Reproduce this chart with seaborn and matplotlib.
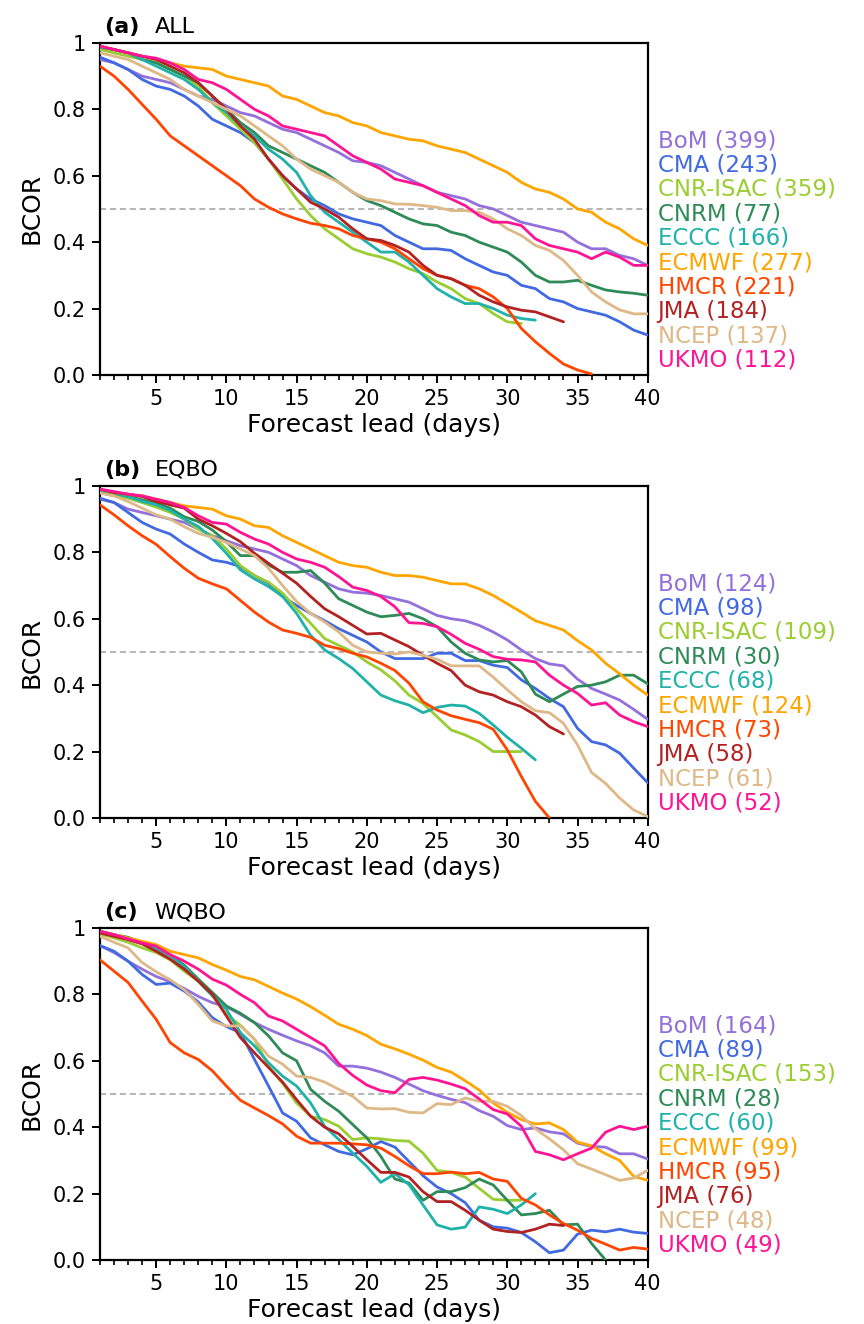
import pandas as pd
import matplotlib
matplotlib.use('Agg')
import matplotlib.pyplot as plt
import seaborn as sns

sns.set_style('ticks')
plt.rcParams['font.family'] = ['DejaVu Sans']
plt.rcParams['text.color'] = 'black'
plt.rcParams['axes.labelcolor'] = 'black'
plt.rcParams['axes.edgecolor'] = 'black'
plt.rcParams['xtick.color'] = 'black'
plt.rcParams['ytick.color'] = 'black'

# 模式名称和颜色
models = ['BoM', 'CMA', 'CNR-ISAC', 'CNRM', 'ECCC', 'ECMWF', 'HMCR', 'JMA', 'NCEP', 'UKMO']
colors = ['#9370DB', '#4169E1', '#9ACD32', '#2E8B57', '#20B2AA',
          '#FFA500', '#FF4500', '#B22222', '#DEB887', '#FF1493']

# (a) ALL
all_bom = [0.95, 0.94, 0.92, 0.90, 0.89, 0.88, 0.86, 0.84, 0.83, 0.81, 0.79, 0.78, 0.76, 0.74, 0.73, 0.71, 0.69, 0.67, 0.645, 0.64,
           0.63, 0.61, 0.59, 0.57, 0.55, 0.54, 0.53, 0.51, 0.50, 0.48, 0.46, 0.45, 0.44, 0.43, 0.40, 0.38, 0.38, 0.36, 0.35, 0.33]
all_cma = [0.957, 0.94, 0.92, 0.89, 0.87, 0.86, 0.84, 0.81, 0.77, 0.75, 0.73, 0.70, 0.65, 0.60, 0.56, 0.53, 0.51, 0.485, 0.47, 0.46,
           0.45, 0.42, 0.40, 0.38, 0.38, 0.375, 0.35, 0.33, 0.31, 0.30, 0.27, 0.26, 0.23, 0.22, 0.20, 0.19, 0.18, 0.16, 0.135, 0.12]
all_cnr = [0.98, 0.97, 0.96, 0.95, 0.94, 0.92, 0.90, 0.87, 0.82, 0.78, 0.74, 0.70, 0.65, 0.59, 0.53, 0.48, 0.44, 0.41, 0.38, 0.365,
           0.355, 0.34, 0.32, 0.305, 0.28, 0.26, 0.23, 0.215, 0.185, 0.16, 0.155]
all_cnrm = [0.987, 0.98, 0.97, 0.95, 0.94, 0.92, 0.90, 0.88, 0.84, 0.80, 0.76, 0.73, 0.69, 0.67, 0.65, 0.63, 0.61, 0.58, 0.55, 0.525,
            0.51, 0.49, 0.47, 0.455, 0.45, 0.43, 0.42, 0.40, 0.385, 0.37, 0.34, 0.30, 0.28, 0.28, 0.285, 0.27, 0.256, 0.25, 0.246, 0.24]
all_eccc = [0.987, 0.98, 0.97, 0.95, 0.93, 0.91, 0.89, 0.86, 0.82, 0.79, 0.75, 0.72, 0.68, 0.65, 0.61, 0.54, 0.49, 0.46, 0.43, 0.40,
            0.37, 0.37, 0.34, 0.30, 0.26, 0.235, 0.215, 0.215, 0.20, 0.18, 0.17, 0.165]
all_ecmwf = [0.99, 0.98, 0.97, 0.96, 0.95, 0.94, 0.93, 0.925, 0.92, 0.90, 0.89, 0.88, 0.87, 0.84, 0.83, 0.81, 0.79, 0.78, 0.76, 0.75,
             0.73, 0.72, 0.71, 0.705, 0.69, 0.68, 0.67, 0.65, 0.63, 0.61, 0.58, 0.56, 0.55, 0.53, 0.50, 0.49, 0.46, 0.44, 0.41, 0.39]
all_hmcr = [0.93, 0.90, 0.86, 0.815, 0.77, 0.72, 0.69, 0.66, 0.63, 0.60, 0.57, 0.53, 0.505, 0.485, 0.47, 0.457, 0.45, 0.44, 0.42, 0.41,
            0.40, 0.38, 0.35, 0.32, 0.30, 0.29, 0.27, 0.26, 0.235, 0.20, 0.14, 0.10, 0.065, 0.033, 0.015, 0.003]
all_jma = [0.99, 0.98, 0.97, 0.96, 0.95, 0.93, 0.91, 0.88, 0.84, 0.80, 0.75, 0.71, 0.65, 0.60, 0.56, 0.52, 0.50, 0.475, 0.44, 0.41,
           0.405, 0.39, 0.37, 0.33, 0.30, 0.29, 0.27, 0.24, 0.22, 0.205, 0.195, 0.19, 0.175, 0.16]
all_ncep = [0.97, 0.96, 0.95, 0.93, 0.91, 0.89, 0.86, 0.84, 0.82, 0.80, 0.78, 0.75, 0.72, 0.69, 0.65, 0.62, 0.60, 0.58, 0.55, 0.53,
            0.525, 0.515, 0.514, 0.51, 0.505, 0.495, 0.495, 0.49, 0.47, 0.44, 0.42, 0.39, 0.375, 0.345, 0.30, 0.25, 0.22, 0.196, 0.184, 0.184]
all_ukmo = [0.99, 0.98, 0.97, 0.96, 0.954, 0.94, 0.92, 0.89, 0.88, 0.86, 0.83, 0.80, 0.78, 0.75, 0.74, 0.73, 0.72, 0.69, 0.66, 0.64,
            0.62, 0.59, 0.58, 0.57, 0.55, 0.53, 0.51, 0.48, 0.46, 0.46, 0.45, 0.41, 0.39, 0.38, 0.37, 0.35, 0.37, 0.355, 0.33, 0.33]
all_counts = [399, 243, 359, 77, 166, 277, 221, 184, 137, 112]

# (b) EQBO
eq_bom = [0.96, 0.95, 0.93, 0.92, 0.91, 0.90, 0.89, 0.87, 0.85, 0.835, 0.82, 0.81, 0.80, 0.78, 0.76, 0.73, 0.71, 0.69, 0.68, 0.677,
          0.67, 0.66, 0.65, 0.63, 0.61, 0.60, 0.594, 0.58, 0.56, 0.536, 0.506, 0.48, 0.464, 0.458, 0.418, 0.39, 0.373, 0.355, 0.327, 0.297]
eq_cma = [0.963, 0.95, 0.92, 0.89, 0.87, 0.855, 0.825, 0.80, 0.777, 0.77, 0.757, 0.73, 0.707, 0.667, 0.64, 0.616, 0.594, 0.57, 0.55, 0.53,
          0.50, 0.48, 0.48, 0.48, 0.496, 0.496, 0.474, 0.474, 0.46, 0.453, 0.416, 0.39, 0.36, 0.335, 0.27, 0.23, 0.22, 0.195, 0.15, 0.106]
eq_cnr = [0.98, 0.97, 0.963, 0.95, 0.936, 0.92, 0.90, 0.87, 0.85, 0.81, 0.76, 0.73, 0.71, 0.677, 0.63, 0.586, 0.54, 0.52, 0.50, 0.47,
          0.446, 0.413, 0.37, 0.345, 0.305, 0.265, 0.25, 0.23, 0.20, 0.20, 0.20]
eq_cnrm = [0.986, 0.978, 0.968, 0.958, 0.948, 0.933, 0.907, 0.893, 0.867, 0.832, 0.79, 0.79, 0.762, 0.74, 0.74, 0.745, 0.707, 0.66, 0.64, 0.62,
           0.606, 0.61, 0.616, 0.60, 0.576, 0.53, 0.496, 0.476, 0.47, 0.474, 0.44, 0.373, 0.35, 0.373, 0.396, 0.40, 0.41, 0.43, 0.43, 0.404]
eq_eccc = [0.986, 0.978, 0.968, 0.953, 0.943, 0.926, 0.90, 0.878, 0.842, 0.797, 0.747, 0.72, 0.697, 0.667, 0.616, 0.55, 0.506, 0.48, 0.45, 0.41,
           0.37, 0.353, 0.34, 0.317, 0.333, 0.34, 0.337, 0.315, 0.28, 0.243, 0.21, 0.175]
eq_ecmwf = [0.99, 0.98, 0.975, 0.97, 0.96, 0.95, 0.94, 0.935, 0.93, 0.91, 0.90, 0.88, 0.875, 0.85, 0.83, 0.81, 0.79, 0.77, 0.76, 0.755,
            0.74, 0.73, 0.73, 0.725, 0.715, 0.705, 0.705, 0.69, 0.67, 0.645, 0.62, 0.594, 0.58, 0.566, 0.534, 0.506, 0.466, 0.434, 0.40, 0.37]
eq_hmcr = [0.943, 0.913, 0.88, 0.85, 0.824, 0.787, 0.752, 0.722, 0.705, 0.69, 0.655, 0.62, 0.59, 0.566, 0.556, 0.544, 0.52, 0.51, 0.496, 0.485,
           0.466, 0.444, 0.406, 0.35, 0.325, 0.308, 0.297, 0.287, 0.267, 0.205, 0.125, 0.05, 0.0]
eq_jma = [0.99, 0.98, 0.975, 0.968, 0.953, 0.943, 0.933, 0.90, 0.88, 0.857, 0.832, 0.797, 0.767, 0.737, 0.707, 0.667, 0.63, 0.606, 0.58, 0.554,
          0.556, 0.536, 0.516, 0.49, 0.466, 0.444, 0.40, 0.38, 0.37, 0.35, 0.335, 0.31, 0.275, 0.253]
eq_ncep = [0.978, 0.97, 0.953, 0.933, 0.913, 0.90, 0.877, 0.857, 0.845, 0.83, 0.81, 0.79, 0.752, 0.70, 0.652, 0.616, 0.59, 0.56, 0.52, 0.50,
           0.496, 0.494, 0.50, 0.49, 0.478, 0.458, 0.458, 0.458, 0.424, 0.386, 0.35, 0.323, 0.317, 0.285, 0.22, 0.137, 0.104, 0.06, 0.024, 0.004]
eq_ukmo = [0.99, 0.983, 0.975, 0.97, 0.96, 0.95, 0.935, 0.91, 0.89, 0.885, 0.86, 0.84, 0.825, 0.80, 0.78, 0.77, 0.755, 0.727, 0.695, 0.685,
           0.667, 0.636, 0.588, 0.586, 0.576, 0.553, 0.526, 0.508, 0.486, 0.478, 0.476, 0.47, 0.43, 0.40, 0.375, 0.34, 0.347, 0.31, 0.29, 0.275]
eq_counts = [124, 98, 109, 30, 68, 124, 73, 58, 61, 52]

# (c) WQBO
wq_bom = [0.947, 0.926, 0.90, 0.876, 0.854, 0.838, 0.818, 0.794, 0.775, 0.763, 0.74, 0.715, 0.695, 0.677, 0.66, 0.645, 0.624, 0.584, 0.584, 0.578,
          0.566, 0.55, 0.53, 0.51, 0.496, 0.484, 0.474, 0.45, 0.433, 0.405, 0.393, 0.398, 0.386, 0.38, 0.352, 0.342, 0.34, 0.32, 0.32, 0.304]
wq_cma = [0.947, 0.93, 0.90, 0.86, 0.83, 0.834, 0.81, 0.777, 0.73, 0.703, 0.685, 0.604, 0.524, 0.443, 0.418, 0.368, 0.347, 0.327, 0.317, 0.335,
          0.357, 0.34, 0.297, 0.254, 0.22, 0.20, 0.173, 0.12, 0.10, 0.096, 0.083, 0.055, 0.022, 0.03, 0.078, 0.09, 0.085, 0.093, 0.084, 0.08]
wq_cnr = [0.982, 0.97, 0.957, 0.94, 0.926, 0.904, 0.87, 0.84, 0.796, 0.74, 0.707, 0.665, 0.584, 0.532, 0.473, 0.433, 0.423, 0.403, 0.363, 0.368,
          0.365, 0.36, 0.358, 0.322, 0.27, 0.264, 0.25, 0.216, 0.183, 0.18, 0.18]
wq_cnrm = [0.99, 0.98, 0.972, 0.957, 0.94, 0.918, 0.888, 0.846, 0.806, 0.765, 0.743, 0.715, 0.675, 0.624, 0.60, 0.514, 0.478, 0.448, 0.408, 0.368,
           0.312, 0.244, 0.232, 0.18, 0.206, 0.206, 0.218, 0.244, 0.226, 0.18, 0.136, 0.14, 0.15, 0.106, 0.108, 0.05, 0.0]
wq_eccc = [0.99, 0.98, 0.967, 0.955, 0.937, 0.916, 0.884, 0.84, 0.796, 0.755, 0.685, 0.645, 0.594, 0.554, 0.524, 0.473, 0.403, 0.363, 0.322, 0.282,
           0.234, 0.26, 0.227, 0.166, 0.106, 0.093, 0.099, 0.16, 0.153, 0.14, 0.166, 0.20]
wq_ecmwf = [0.99, 0.98, 0.97, 0.96, 0.95, 0.93, 0.92, 0.91, 0.89, 0.873, 0.854, 0.844, 0.824, 0.804, 0.786, 0.763, 0.737, 0.71, 0.695, 0.676,
            0.65, 0.636, 0.62, 0.602, 0.58, 0.566, 0.54, 0.512, 0.473, 0.445, 0.423, 0.41, 0.413, 0.393, 0.355, 0.344, 0.32, 0.30, 0.252, 0.24]
wq_hmcr = [0.904, 0.87, 0.836, 0.78, 0.725, 0.655, 0.624, 0.604, 0.57, 0.524, 0.481, 0.458, 0.435, 0.41, 0.373, 0.352, 0.352, 0.352, 0.35, 0.347,
           0.337, 0.312, 0.284, 0.26, 0.26, 0.265, 0.26, 0.264, 0.244, 0.237, 0.186, 0.166, 0.136, 0.11, 0.09, 0.065, 0.048, 0.03, 0.038, 0.033]
wq_jma = [0.985, 0.975, 0.965, 0.952, 0.93, 0.906, 0.876, 0.84, 0.80, 0.735, 0.67, 0.624, 0.58, 0.536, 0.483, 0.433, 0.40, 0.38, 0.342, 0.302,
          0.264, 0.264, 0.25, 0.206, 0.176, 0.176, 0.15, 0.12, 0.093, 0.086, 0.083, 0.093, 0.108, 0.104]
wq_ncep = [0.975, 0.957, 0.94, 0.896, 0.868, 0.844, 0.814, 0.77, 0.72, 0.705, 0.705, 0.665, 0.614, 0.59, 0.554, 0.55, 0.536, 0.514, 0.493, 0.458,
           0.455, 0.456, 0.445, 0.443, 0.471, 0.468, 0.488, 0.478, 0.478, 0.463, 0.435, 0.395, 0.365, 0.332, 0.29, 0.274, 0.257, 0.24, 0.247, 0.27]
wq_ukmo = [0.99, 0.98, 0.967, 0.955, 0.945, 0.92, 0.90, 0.876, 0.846, 0.828, 0.80, 0.775, 0.735, 0.72, 0.695, 0.67, 0.645, 0.592, 0.556, 0.527,
           0.51, 0.504, 0.544, 0.55, 0.542, 0.53, 0.516, 0.485, 0.453, 0.44, 0.403, 0.327, 0.317, 0.302, 0.32, 0.337, 0.385, 0.403, 0.393, 0.403]
wq_counts = [164, 89, 153, 28, 60, 99, 95, 76, 48, 49]

panels = [
    ('(a)', 'ALL', [all_bom, all_cma, all_cnr, all_cnrm, all_eccc, all_ecmwf, all_hmcr, all_jma, all_ncep, all_ukmo], all_counts),
    ('(b)', 'EQBO', [eq_bom, eq_cma, eq_cnr, eq_cnrm, eq_eccc, eq_ecmwf, eq_hmcr, eq_jma, eq_ncep, eq_ukmo], eq_counts),
    ('(c)', 'WQBO', [wq_bom, wq_cma, wq_cnr, wq_cnrm, wq_eccc, wq_ecmwf, wq_hmcr, wq_jma, wq_ncep, wq_ukmo], wq_counts),
]

palette = dict(zip(models, colors))

fig = plt.figure(figsize=(8.64, 13.24), dpi=100)
bottoms = [0.7168, 0.3822, 0.0483]

for (tag, name, series, counts), bottom in zip(panels, bottoms):
    ax = fig.add_axes([0.1157, bottom, 0.634, 0.2508])

    rows = []
    for m, vals in zip(models, series):
        for i, v in enumerate(vals):
            rows.append({'lead': i + 1, 'bcor': v, 'model': m})
    df = pd.DataFrame(rows)

    ax.axhline(0.5, color='#a0a0a0', lw=1.1, ls=(0, (4, 2.5)), zorder=1)
    sns.lineplot(data=df, x='lead', y='bcor', hue='model', hue_order=models,
                 palette=palette, linewidth=2, legend=False, errorbar=None,
                 ax=ax, zorder=3)

    ax.set_xlim(1, 40)
    ax.set_ylim(0, 1)
    ax.set_xticks(range(5, 41, 5))
    ax.set_xticks(range(1, 41), minor=True)
    ax.set_yticks([0, 0.2, 0.4, 0.6, 0.8, 1.0])
    ax.set_yticklabels(['0.0', '0.2', '0.4', '0.6', '0.8', '1'])
    ax.tick_params(axis='both', which='major', length=6, width=1.4, labelsize=15, pad=4)
    ax.tick_params(axis='both', which='minor', length=3.5, width=1.2)
    ax.tick_params(axis='y', which='minor', left=False)
    for sp in ax.spines.values():
        sp.set_linewidth(1.6)

    ax.set_xlabel('Forecast lead (days)', fontsize=18, labelpad=3)
    ax.set_ylabel('BCOR', fontsize=18, labelpad=7)

    ax.text(0.008, 1.03, tag, transform=ax.transAxes, fontsize=16,
            fontweight='bold', ha='left', va='baseline')
    ax.text(0.1, 1.03, name, transform=ax.transAxes, fontsize=16,
            ha='left', va='baseline')

    # 右侧彩色标注
    for k, (m, c, n) in enumerate(zip(models, colors, counts)):
        ax.text(1.018, 0.706 - k * 0.0735, f'{m} ({n})', color=c,
                transform=ax.transAxes, fontsize=16.5, ha='left', va='center')

fig.savefig('out.png', dpi=100)
